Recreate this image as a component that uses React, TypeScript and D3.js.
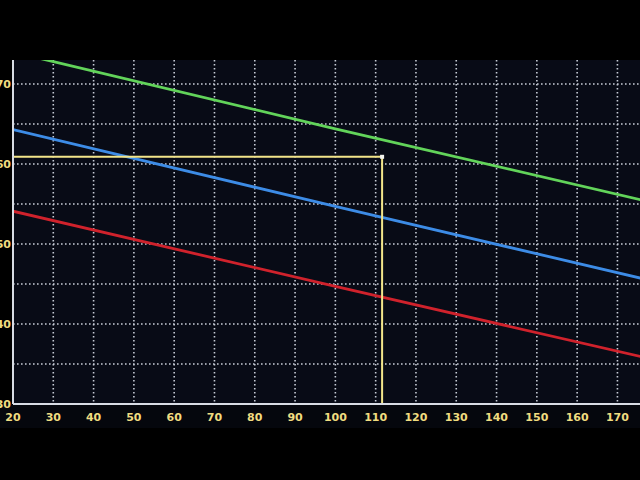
import React from 'react'
import * as d3 from 'd3'

// values
const xTicks = [20, 30, 40, 50, 60, 70, 80, 90, 100, 110, 120, 130, 140, 150, 160, 170]
const yTicks = [30, 40, 50, 60, 70]
const yGrid = [35, 40, 45, 50, 55, 60, 65, 70]

const greenX = [20, 100, 176]
const greenY = [74, 64.4, 55.5]
const blueX = [20, 100, 176]
const blueY = [64.3, 54.7, 45.7]
const redX = [20, 100, 176]
const redY = [54.1, 44.7, 35.9]
const markX = [20, 111.6, 111.6]
const markY = [60.9, 60.9, 30]

const W = 640
const H = 480
const left = 13
const right = 640
const top = 60
const bottom = 404

const App = () => {
	const x = d3.scaleLinear().domain([20, 175.6]).range([left, right])
	const y = d3.scaleLinear().domain([30, 73]).range([bottom, top])

	const line = d3
		.line<[number, number]>()
		.x((d) => x(d[0]))
		.y((d) => y(d[1]))

	const series = [
		{ xs: redX, ys: redY, color: '#d0222c' },
		{ xs: blueX, ys: blueY, color: '#3d8ce6' },
		{ xs: greenX, ys: greenY, color: '#62d45a' }
	]

	const markPts = markX.map((v, i) => [v, markY[i]] as [number, number])

	return (
		<svg
			width={W}
			height={H}
			style={{ position: 'absolute', left: 0, top: 0, background: '#000' }}
		>
			<defs>
				<clipPath id="plot">
					<rect x={left} y={top} width={right - left} height={bottom - top} />
				</clipPath>
			</defs>
			<rect x={left} y={top} width={right - left} height={bottom - top} fill="#080b16" />
			<rect x={0} y={bottom} width={W} height={24} fill="#05070d" />

			{/* grid */}
			<g stroke="#e8eef8" strokeWidth={1.6} strokeDasharray="1.6,2.4" opacity={0.85}>
				{xTicks.slice(1).map((t) => (
					<line key={'vx' + t} x1={x(t)} x2={x(t)} y1={top} y2={bottom} />
				))}
				{yGrid.map((t) => (
					<line key={'hy' + t} x1={left} x2={right} y1={y(t)} y2={y(t)} />
				))}
			</g>

			{/* series */}
			<g clipPath="url(#plot)" fill="none" strokeLinecap="round">
				{series.map((s, i) => (
					<path
						key={i}
						d={line(s.xs.map((v, j) => [v, s.ys[j]] as [number, number])) || ''}
						stroke={s.color}
						strokeWidth={2.8}
					/>
				))}
				<path d={line(markPts) || ''} stroke="#f2e58a" strokeWidth={2} />
				<rect x={x(markX[1]) - 2} y={y(markY[1]) - 2} width={4} height={4} fill="#f4f4f0" />
			</g>

			{/* axes */}
			<line x1={left} x2={left} y1={top} y2={bottom} stroke="#d8dce4" strokeWidth={2} />
			<line x1={left} x2={right} y1={bottom} y2={bottom} stroke="#d8dce4" strokeWidth={2} />

			<g fill="#f0dc80" fontFamily="'DejaVu Sans', sans-serif" fontWeight="bold" fontSize={11}>
				{xTicks.map((t) => (
					<text key={'xl' + t} x={x(t)} y={bottom + 17} textAnchor="middle">
						{t}
					</text>
				))}
				{yTicks.map((t) => (
					<text key={'yl' + t} x={left - 2} y={y(t) + 4} textAnchor="end">
						{t}
					</text>
				))}
			</g>
		</svg>
	)
}

export default App
